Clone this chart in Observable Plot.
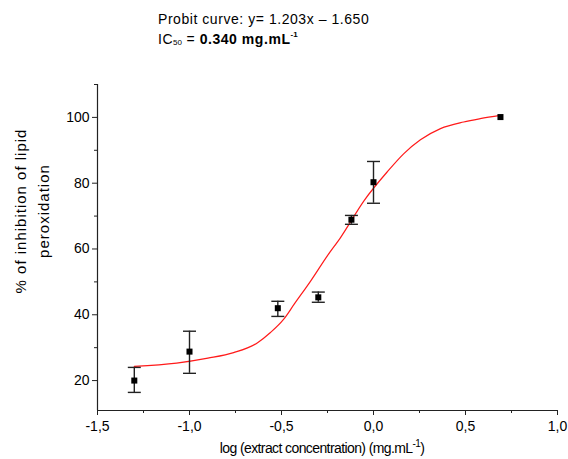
<!DOCTYPE html>
<html><head><meta charset="utf-8">
<script src="https://cdn.jsdelivr.net/npm/d3@7"></script>
<script src="https://cdn.jsdelivr.net/npm/@observablehq/plot@0.6"></script>
<style>
body{margin:0;background:#fff;font-family:"Liberation Sans",Arial,sans-serif;color:#000;}
#wrap{position:relative;width:568px;height:459px;overflow:hidden;}
#wrap svg{position:absolute;left:0;top:0;}
#title{position:absolute;left:158px;top:9px;font-size:14px;letter-spacing:0.55px;line-height:20px;white-space:nowrap;}
#title sub{font-size:8px;letter-spacing:0;vertical-align:baseline;position:relative;top:1px;}
#title sup{font-size:8px;letter-spacing:0;vertical-align:baseline;position:relative;top:-7px;}
#ylab{position:absolute;left:-68.5px;top:188px;width:200px;height:46px;line-height:23px;font-size:15px;letter-spacing:1px;text-align:center;transform:rotate(-90deg);transform-origin:100px 23px;white-space:nowrap;}
#xlab{position:absolute;left:122px;width:400px;top:440px;font-size:14px;letter-spacing:-0.6px;line-height:17px;text-align:center;white-space:nowrap;}
#xlab sup{font-size:10px;vertical-align:baseline;position:relative;top:-6px;}
</style></head><body>
<div id="wrap"></div>
<script>
// measured data (log concentration vs % inhibition)
const logConc    = [-1.30, -1.00, -0.52, -0.30, -0.12, 0.00, 0.69];
const inhibition = [20.0, 28.8, 42.0, 45.3, 68.9, 80.3, 100.1];
const errLow     = [16.4, 22.2, 39.5, 43.8, 67.5, 73.9, 100.1];
const errHigh    = [24.0, 35.0, 44.1, 46.9, 70.2, 86.6, 100.1];
// fitted curve
const curveX = [-1.30, -1.07, -0.90, -0.76, -0.63, -0.56, -0.49, -0.43, -0.34, -0.25, -0.18, -0.05, 0.074, 0.165, 0.255, 0.364, 0.49, 0.58, 0.69];
const curveY = [24.3, 25.3, 26.8, 28.5, 31.5, 34.6, 38.5, 43.3, 50.4, 58.0, 63.4, 74.8, 83.4, 89.0, 93.2, 96.6, 98.6, 99.6, 100.6];
// axes
const xTicks = [-1.5, -1.0, -0.5, 0.0, 0.5, 1.0];
const xMinor = [-1.25, -0.75, -0.25, 0.25, 0.75];
const yTicks = [20, 40, 60, 80, 100];
const yMinor = [30, 50, 70, 90, 110];
const xDomain = [-1.5, 1.0];
const yDomain = [10.9, 110];

const pts = logConc.map((x, i) => ({x, y: inhibition[i], lo: errLow[i], hi: errHigh[i]}));
const errPts = pts.filter(d => d.hi > d.lo);
const curve = curveX.map((x, i) => ({x, y: curveY[i]}));

const cap = {draw(ctx) { ctx.moveTo(-6.5, 0); ctx.lineTo(6.5, 0); }};
const axisColor = "#222";

const chart = Plot.plot({
  width: 568, height: 459,
  marginLeft: 97, marginRight: 11, marginTop: 84, marginBottom: 49,
  style: {fontFamily: "'Liberation Sans', Arial, sans-serif", fontSize: "14px", background: "transparent", color: axisColor},
  x: {domain: xDomain},
  y: {domain: yDomain},
  marks: [
    Plot.ruleY([yDomain[0]], {stroke: axisColor, strokeWidth: 1.2}),
    Plot.ruleX([xDomain[0]], {stroke: axisColor, strokeWidth: 1.2}),
    Plot.axisX(xTicks, {tickSize: 5, tickPadding: 6, tickFormat: d => d.toFixed(1).replace(".", ","), label: null, fill: "#000"}),
    Plot.axisX(xMinor, {tickSize: 3, text: null, label: null}),
    Plot.axisY(yTicks, {tickSize: 5, tickPadding: 3, label: null, fill: "#000"}),
    Plot.axisY(yMinor, {tickSize: 3, text: null, label: null}),
    Plot.line(curve, {x: "x", y: "y", stroke: "#ff1a1a", strokeWidth: 1.2, curve: "monotone-x"}),
    Plot.ruleX(errPts, {x: "x", y1: "lo", y2: "hi", stroke: "#222", strokeWidth: 1.4}),
    Plot.dot(errPts, {x: "x", y: "lo", symbol: cap, r: 3, stroke: "#222", strokeWidth: 1.4}),
    Plot.dot(errPts, {x: "x", y: "hi", symbol: cap, r: 3, stroke: "#222", strokeWidth: 1.4}),
    Plot.dot(pts, {x: "x", y: "y", symbol: "square", r: 3.4, fill: "#000", stroke: null})
  ]
});

const wrap = document.getElementById("wrap");
wrap.appendChild(chart);
wrap.insertAdjacentHTML("beforeend",
  '<div id="title">Probit curve: y= 1.203x \u2013 1.650<br>IC<sub>50</sub> = <b>0.340 mg.mL<sup>-1</sup></b></div>' +
  '<div id="ylab">% of inhibition of lipid<br>peroxidation</div>' +
  '<div id="xlab">log (extract concentration) (mg.mL<sup>-1</sup>)</div>');
</script>
</body></html>
